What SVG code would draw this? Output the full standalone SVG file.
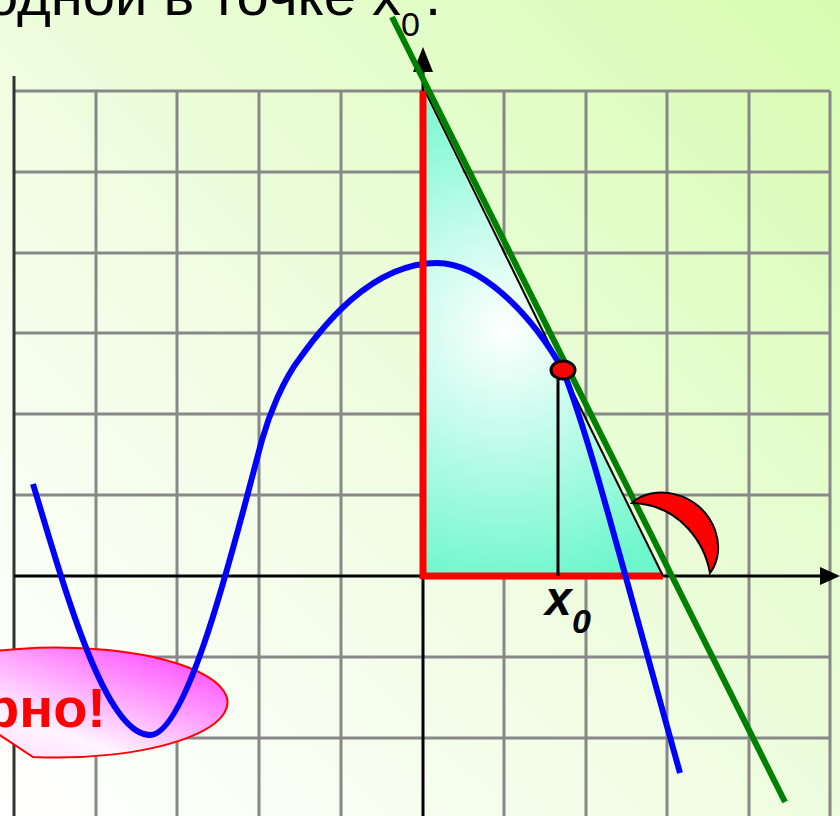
<svg xmlns="http://www.w3.org/2000/svg" width="840" height="816" viewBox="0 0 840 816">
<defs>
<linearGradient id="bg" x1="1" y1="0" x2="0" y2="1">
<stop offset="0" stop-color="#d6fcb0"/>
<stop offset="0.6" stop-color="#f2fde6"/>
<stop offset="1" stop-color="#ffffff"/>
</linearGradient>
<radialGradient id="tri" gradientUnits="userSpaceOnUse" cx="505" cy="330" r="260">
<stop offset="0" stop-color="#ffffff"/>
<stop offset="1" stop-color="#6ef7cc"/>
</radialGradient>
<linearGradient id="pink" x1="0" y1="1" x2="1" y2="0">
<stop offset="0" stop-color="#ffd0ff"/>
<stop offset="0.35" stop-color="#fff4ff"/>
<stop offset="1" stop-color="#ff30ff"/>
</linearGradient>
<style>
.grid{stroke:#888888;stroke-width:3;fill:none}
.axis{stroke:#000000;stroke-width:3;fill:none}
.leg{stroke:#ff0000;stroke-width:7;fill:none}
.txt{font-family:"Liberation Sans",Arial,sans-serif}
</style>
</defs>
<rect x="0" y="0" width="840" height="816" fill="url(#bg)"/>
<g id="grid" class="grid">
<path d="M96,91V816M177,91V816M259,91V816M341,91V816M504,91V816M586,91V816M667,91V816M749,91V816M830,91V816"/>
<path d="M14,91H830M14,172H830M14,253H830M14,333H830M14,414H830M14,495H830M14,657H830M14,738H830"/>
</g>
<g id="axes">
<line x1="14" y1="76" x2="14" y2="816" stroke="#333333" stroke-width="3"/>
<line class="axis" x1="14" y1="576" x2="822" y2="576"/>
<polygon points="840,576 820,567 820,585" fill="#000000"/>
<line class="axis" x1="423" y1="70" x2="423" y2="816"/>
<polygon points="423,47 413,72 433,72" fill="#000000"/>
</g>
<g id="triangle">
<polygon points="423,91 423,576 663,576" fill="url(#tri)"/>
<line x1="423" y1="576" x2="663" y2="576" class="leg"/>
<line x1="425" y1="91" x2="663" y2="576" stroke="#000000" stroke-width="2"/>
<line x1="558" y1="370" x2="558" y2="576" class="axis"/>
</g>
<g id="callout">
<path d="M-90,676 L33,757 A171,55 0 1 0 -52,660 Z" fill="url(#pink)" stroke="#ff0000" stroke-width="2"/>
<text class="txt" x="106" y="727" font-size="56" font-weight="bold" fill="#ff0000" text-anchor="end">рно!</text>
</g>
<g id="curve">
<path d="M33,484 C65,590 105,735 150,735 C190,735 240,520 262,440 C269,415 283,380 300,358 C320,330 370,263 437,263 C480,263 530,312 563,370 C590,440 615,540 680,773" fill="none" stroke="#0000ff" stroke-width="6"/>
</g>
<g id="yleg">
<line x1="423" y1="91" x2="423" y2="579" class="leg"/>
</g>
<g id="tangent">
<line x1="392" y1="17" x2="785" y2="802" stroke="#008000" stroke-width="6"/>
</g>
<g id="angle">
<path d="M632,503 C652,484 700,490 715,530 C722,550 716,565 710,573 C705,545 682,505 632,503 Z" fill="#ff0000" stroke="#000000" stroke-width="2"/>
</g>
<g id="point">
<ellipse cx="563" cy="370" rx="12" ry="9" fill="#ff0000" stroke="#000000" stroke-width="3"/>
</g>
<g id="labels">
<text class="txt" x="545" y="615" font-size="48" font-weight="bold" font-style="italic">x</text>
<text class="txt" x="572" y="633" font-size="34" font-weight="bold" font-style="italic">0</text>
<text class="txt" x="401" y="15" font-size="58" text-anchor="end">одной в точке x</text>
<text class="txt" x="401" y="36" font-size="34">0</text>
<text class="txt" x="425" y="15" font-size="58">.</text>
</g>
</svg>
